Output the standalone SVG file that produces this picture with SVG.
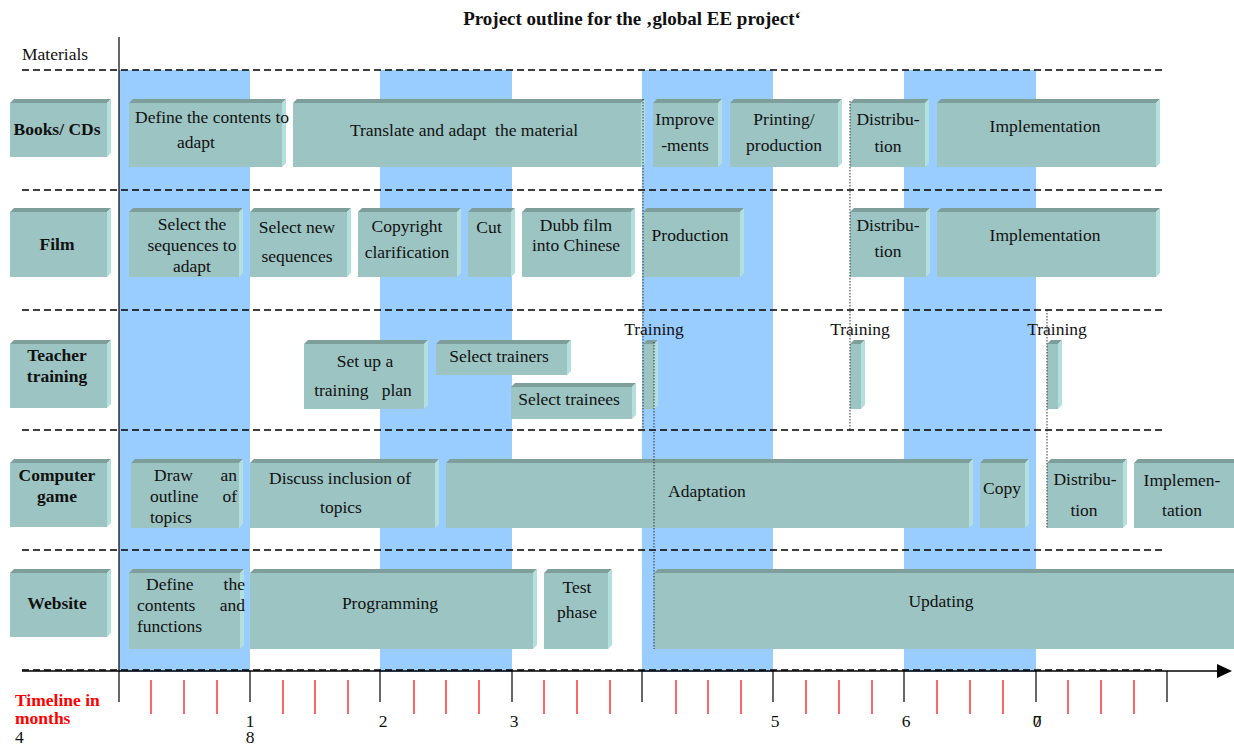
<svg xmlns="http://www.w3.org/2000/svg" width="1234" height="744" viewBox="0 0 1234 744">
<style>
text{font-family:"Liberation Serif","Times New Roman","DejaVu Serif",serif;font-size:17.5px;fill:#111;white-space:pre}
.b{font-weight:bold}
.m{text-anchor:middle}
.e{text-anchor:end}
.face{fill:#9CC4C3}
.top{fill:#7E9E9C}
.side{fill:#B3E0DC}
.band{fill:#99CCFF}
.dash{stroke:#000;stroke-width:1.5;stroke-dasharray:7,4;fill:none}
.dot{stroke:#333;stroke-width:1;stroke-dasharray:1.5,1.5;fill:none}
.maj{stroke:#000;stroke-width:1.2}
.min{stroke:#ff0000;stroke-width:1.2}
.red{fill:#ff0000;font-weight:bold}
</style>
<rect width="1234" height="744" fill="#fff"/>
<g id="bands">
<rect class="band" x="119" y="70" width="131" height="602"/>
<rect class="band" x="380" y="70" width="132" height="602"/>
<rect class="band" x="642" y="70" width="131" height="602"/>
<rect class="band" x="904" y="70" width="132" height="602"/>
</g>
<g id="gridlines">
<line class="dash" x1="22" y1="70" x2="1165" y2="70"/>
<line class="dash" x1="22" y1="190" x2="1165" y2="190"/>
<line class="dash" x1="22" y1="310" x2="1165" y2="310"/>
<line class="dash" x1="22" y1="430" x2="1165" y2="430"/>
<line class="dash" x1="22" y1="550" x2="1165" y2="550"/>
</g>
<text class="b m" x="632" y="25" style="font-size:19px">Project outline for the ‚global EE project‘</text>
<text x="22" y="60">Materials</text>

<!-- Row labels -->
<g id="lbl-books"><rect class="face" x="10" y="103" width="97" height="54"/><polygon class="top" points="10,103 14,99 111,99 107,103"/><polygon class="side" points="107,103 111,99 111,153 107,157"/><text class="b m" x="57" y="135">Books/ CDs</text></g>
<g id="lbl-film"><rect class="face" x="10" y="212" width="97" height="65"/><polygon class="top" points="10,212 14,208 111,208 107,212"/><polygon class="side" points="107,212 111,208 111,273 107,277"/><text class="b m" x="57" y="250">Film</text></g>
<g id="lbl-teacher"><rect class="face" x="10" y="344" width="97" height="64"/><polygon class="top" points="10,344 14,340 111,340 107,344"/><polygon class="side" points="107,344 111,340 111,404 107,408"/><text class="b m" x="57" y="361">Teacher</text><text class="b m" x="57" y="382">training</text></g>
<g id="lbl-game"><rect class="face" x="10" y="463" width="97" height="64"/><polygon class="top" points="10,463 14,459 111,459 107,463"/><polygon class="side" points="107,463 111,459 111,523 107,527"/><text class="b m" x="57" y="481">Computer</text><text class="b m" x="57" y="502">game</text></g>
<g id="lbl-web"><rect class="face" x="10" y="573" width="97" height="64"/><polygon class="top" points="10,573 14,569 111,569 107,573"/><polygon class="side" points="107,573 111,569 111,633 107,637"/><text class="b m" x="57" y="609">Website</text></g>

<!-- Row 1 -->
<g id="b-define"><rect class="face" x="129" y="103" width="153" height="64"/><polygon class="top" points="129,103 133,99 286,99 282,103"/><polygon class="side" points="282,103 286,99 286,163 282,167"/><text x="135" y="123">Define the contents to</text><text class="m" x="196" y="148">adapt</text></g>
<g id="b-translate"><rect class="face" x="293" y="103" width="348" height="64"/><polygon class="top" points="293,103 297,99 645,99 641,103"/><polygon class="side" points="641,103 645,99 645,163 641,167"/><text class="m" x="464" y="136">Translate and adapt  the material</text></g>
<g id="b-improve"><rect class="face" x="653" y="103" width="65" height="64"/><polygon class="top" points="653,103 657,99 722,99 718,103"/><polygon class="side" points="718,103 722,99 722,163 718,167"/><text class="m" x="685" y="125">Improve</text><text class="m" x="685" y="151">-ments</text></g>
<g id="b-printing"><rect class="face" x="730" y="103" width="108" height="64"/><polygon class="top" points="730,103 734,99 842,99 838,103"/><polygon class="side" points="838,103 842,99 842,163 838,167"/><text class="m" x="784" y="125">Printing/</text><text class="m" x="784" y="151">production</text></g>
<g id="b-distr1"><rect class="face" x="850" y="103" width="75" height="64"/><polygon class="top" points="850,103 854,99 929,99 925,103"/><polygon class="side" points="925,103 929,99 929,163 925,167"/><text class="m" x="888" y="125">Distribu-</text><text class="m" x="888" y="152">tion</text></g>
<g id="b-impl1"><rect class="face" x="937" y="103" width="219" height="64"/><polygon class="top" points="937,103 941,99 1160,99 1156,103"/><polygon class="side" points="1156,103 1160,99 1160,163 1156,167"/><text class="m" x="1045" y="132">Implementation</text></g>

<!-- Row 2 -->
<g id="b-selseq"><rect class="face" x="129" y="212" width="110" height="65"/><polygon class="top" points="129,212 133,208 243,208 239,212"/><polygon class="side" points="239,212 243,208 243,273 239,277"/><text class="m" x="192" y="230">Select the</text><text class="m" x="192" y="251">sequences to</text><text class="m" x="192" y="272">adapt</text></g>
<g id="b-selnew"><rect class="face" x="250" y="212" width="97" height="65"/><polygon class="top" points="250,212 254,208 351,208 347,212"/><polygon class="side" points="347,212 351,208 351,273 347,277"/><text class="m" x="297" y="233">Select new</text><text class="m" x="297" y="262">sequences</text></g>
<g id="b-copyright"><rect class="face" x="358" y="212" width="99" height="65"/><polygon class="top" points="358,212 362,208 461,208 457,212"/><polygon class="side" points="457,212 461,208 461,273 457,277"/><text class="m" x="407" y="232">Copyright</text><text class="m" x="407" y="258">clarification</text></g>
<g id="b-cut"><rect class="face" x="468" y="212" width="43" height="65"/><polygon class="top" points="468,212 472,208 515,208 511,212"/><polygon class="side" points="511,212 515,208 515,273 511,277"/><text class="m" x="489" y="233">Cut</text></g>
<g id="b-dubb"><rect class="face" x="522" y="212" width="109" height="65"/><polygon class="top" points="522,212 526,208 635,208 631,212"/><polygon class="side" points="631,212 635,208 635,273 631,277"/><text class="m" x="576" y="231">Dubb film</text><text class="m" x="576" y="251">into Chinese</text></g>
<g id="b-production"><rect class="face" x="643" y="212" width="97" height="65"/><polygon class="top" points="643,212 647,208 744,208 740,212"/><polygon class="side" points="740,212 744,208 744,273 740,277"/><text class="m" x="690" y="241">Production</text></g>
<g id="b-distr2"><rect class="face" x="850" y="212" width="76" height="65"/><polygon class="top" points="850,212 854,208 930,208 926,212"/><polygon class="side" points="926,212 930,208 930,273 926,277"/><text class="m" x="888" y="231">Distribu-</text><text class="m" x="888" y="257">tion</text></g>
<g id="b-impl2"><rect class="face" x="937" y="212" width="219" height="65"/><polygon class="top" points="937,212 941,208 1160,208 1156,212"/><polygon class="side" points="1156,212 1160,208 1160,273 1156,277"/><text class="m" x="1045" y="241">Implementation</text></g>

<!-- Row 3 -->
<g id="b-setup"><rect class="face" x="304" y="344" width="120" height="65"/><polygon class="top" points="304,344 308,340 428,340 424,344"/><polygon class="side" points="424,344 428,340 428,405 424,409"/><text class="m" x="365" y="367">Set up a</text><text class="m" x="363" y="396">training   plan</text></g>
<g id="b-trainers"><rect class="face" x="436" y="344" width="131" height="31"/><polygon class="top" points="436,344 440,340 571,340 567,344"/><polygon class="side" points="567,344 571,340 571,371 567,375"/><text class="m" x="499" y="362">Select trainers</text></g>
<g id="b-trainees"><rect class="face" x="511" y="387" width="121" height="32"/><polygon class="top" points="511,387 515,383 636,383 632,387"/><polygon class="side" points="632,387 636,383 636,415 632,419"/><text class="m" x="569" y="405">Select trainees</text></g>
<g id="b-train1"><rect class="face" x="643" y="344" width="11" height="65"/><polygon class="top" points="643,344 647,340 658,340 654,344"/><polygon class="side" points="654,344 658,340 658,405 654,409"/><text class="m" x="654" y="335">Training</text></g>
<g id="b-train2"><rect class="face" x="850" y="344" width="11" height="65"/><polygon class="top" points="850,344 854,340 865,340 861,344"/><polygon class="side" points="861,344 865,340 865,405 861,409"/><text class="m" x="860" y="335">Training</text></g>
<g id="b-train3"><rect class="face" x="1047" y="344" width="11" height="65"/><polygon class="top" points="1047,344 1051,340 1062,340 1058,344"/><polygon class="side" points="1058,344 1062,340 1062,405 1058,409"/><text class="m" x="1057" y="335">Training</text></g>

<!-- Row 4 -->
<g id="b-draw"><rect class="face" x="131" y="463" width="108" height="65"/><polygon class="top" points="131,463 135,459 243,459 239,463"/><polygon class="side" points="239,463 243,459 243,524 239,528"/><text x="154" y="481">Draw</text><text class="e" x="237" y="481">an</text><text x="150" y="502">outline</text><text class="e" x="237" y="502">of</text><text x="150" y="523">topics</text></g>
<g id="b-discuss"><rect class="face" x="250" y="463" width="185" height="65"/><polygon class="top" points="250,463 254,459 439,459 435,463"/><polygon class="side" points="435,463 439,459 439,524 435,528"/><text class="m" x="340" y="484">Discuss inclusion of</text><text class="m" x="341" y="513">topics</text></g>
<g id="b-adapt"><rect class="face" x="446" y="463" width="523" height="65"/><polygon class="top" points="446,463 450,459 973,459 969,463"/><polygon class="side" points="969,463 973,459 973,524 969,528"/><text class="m" x="707" y="497">Adaptation</text></g>
<g id="b-copy"><rect class="face" x="980" y="463" width="45" height="65"/><polygon class="top" points="980,463 984,459 1029,459 1025,463"/><polygon class="side" points="1025,463 1029,459 1029,524 1025,528"/><text class="m" x="1002" y="494">Copy</text></g>
<g id="b-distr3"><rect class="face" x="1047" y="463" width="76" height="65"/><polygon class="top" points="1047,463 1051,459 1127,459 1123,463"/><polygon class="side" points="1123,463 1127,459 1127,524 1123,528"/><text class="m" x="1085" y="485">Distribu-</text><text class="m" x="1084" y="516">tion</text></g>
<g id="b-impl3"><rect class="face" x="1134" y="463" width="100" height="65"/><polygon class="top" points="1134,463 1138,459 1234,459 1234,463"/><text class="m" x="1182" y="486">Implemen-</text><text class="m" x="1182" y="516">tation</text></g>

<!-- Row 5 -->
<g id="b-defweb"><rect class="face" x="129" y="573" width="111" height="76"/><polygon class="top" points="129,573 133,569 244,569 240,573"/><polygon class="side" points="240,573 244,569 244,645 240,649"/><text x="146" y="590">Define</text><text class="e" x="245" y="590">the</text><text x="137" y="611">contents</text><text class="e" x="245" y="611">and</text><text x="137" y="632">functions</text></g>
<g id="b-programming"><rect class="face" x="250" y="573" width="283" height="76"/><polygon class="top" points="250,573 254,569 537,569 533,573"/><polygon class="side" points="533,573 537,569 537,645 533,649"/><text class="m" x="390" y="609">Programming</text></g>
<g id="b-test"><rect class="face" x="544" y="573" width="64" height="76"/><polygon class="top" points="544,573 548,569 612,569 608,573"/><polygon class="side" points="608,573 612,569 612,645 608,649"/><text class="m" x="577" y="593">Test</text><text class="m" x="577" y="618">phase</text></g>
<g id="b-updating"><rect class="face" x="654" y="573" width="580" height="76"/><polygon class="top" points="654,573 658,569 1234,569 1234,573"/><text class="m" x="941" y="607">Updating</text></g>

<g id="connectors">
<line class="dot" x1="643" y1="99" x2="643" y2="430"/>
<line class="dot" x1="654" y1="342" x2="654" y2="649"/>
<line class="dot" x1="850" y1="101" x2="850" y2="430"/>
<line class="dot" x1="1047" y1="310" x2="1047" y2="528"/>
<line class="maj" x1="119" y1="37" x2="119" y2="702" stroke-width="1.5"/>
<line x1="22" y1="671" x2="1220" y2="671" stroke="#000" stroke-width="1.5"/>
<line class="dash" x1="22" y1="670" x2="1165" y2="670" stroke-width="1" stroke="#888"/>
<polygon points="1217,664 1232,671 1217,678" fill="#000"/>
</g>

<g id="timeline">
<line class="maj" x1="250" y1="671" x2="250" y2="702"/>
<line class="maj" x1="380" y1="671" x2="380" y2="702"/>
<line class="maj" x1="512" y1="671" x2="512" y2="702"/>
<line class="maj" x1="642" y1="671" x2="642" y2="702"/>
<line class="maj" x1="773" y1="671" x2="773" y2="702"/>
<line class="maj" x1="904" y1="671" x2="904" y2="702"/>
<line class="maj" x1="1036" y1="671" x2="1036" y2="702"/>
<line class="maj" x1="1167" y1="671" x2="1167" y2="702"/>
<g class="min">
<line x1="151" y1="680" x2="151" y2="714"/><line x1="184" y1="680" x2="184" y2="714"/><line x1="217" y1="680" x2="217" y2="714"/>
<line x1="283" y1="680" x2="283" y2="714"/><line x1="315" y1="680" x2="315" y2="714"/><line x1="348" y1="680" x2="348" y2="714"/>
<line x1="414" y1="680" x2="414" y2="714"/><line x1="446" y1="680" x2="446" y2="714"/><line x1="479" y1="680" x2="479" y2="714"/>
<line x1="544" y1="680" x2="544" y2="714"/><line x1="577" y1="680" x2="577" y2="714"/><line x1="610" y1="680" x2="610" y2="714"/>
<line x1="676" y1="680" x2="676" y2="714"/><line x1="708" y1="680" x2="708" y2="714"/><line x1="741" y1="680" x2="741" y2="714"/>
<line x1="806" y1="680" x2="806" y2="714"/><line x1="839" y1="680" x2="839" y2="714"/><line x1="872" y1="680" x2="872" y2="714"/>
<line x1="937" y1="680" x2="937" y2="714"/><line x1="970" y1="680" x2="970" y2="714"/><line x1="1003" y1="680" x2="1003" y2="714"/>
<line x1="1068" y1="680" x2="1068" y2="714"/><line x1="1101" y1="680" x2="1101" y2="714"/><line x1="1134" y1="680" x2="1134" y2="714"/>
</g>
<text class="red" x="15" y="706">Timeline in</text>
<text class="red" x="15" y="724">months</text>
<text x="15" y="743">4</text>
<text class="m" x="250" y="727">1</text>
<text class="m" x="250" y="743">8</text>
<text class="m" x="383" y="727">2</text>
<text class="m" x="514" y="727">3</text>
<text class="m" x="775" y="727">5</text>
<text class="m" x="906" y="727">6</text>
<text class="m" x="1037" y="727">0</text>
<text class="m" x="1037" y="727">7</text>
</g>
</svg>
